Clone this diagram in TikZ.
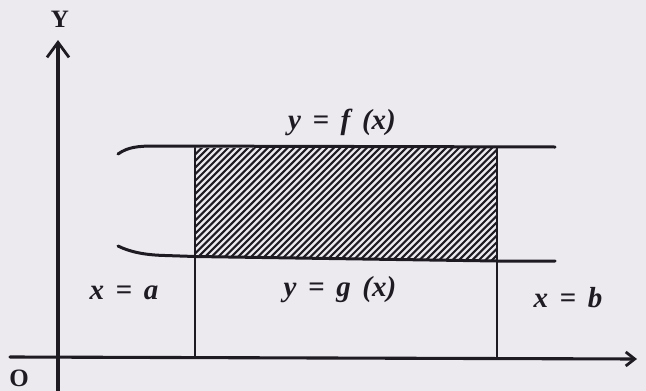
\documentclass[tikz,border=0pt]{standalone}
\usepackage{fontspec}
\setmainfont{Liberation Serif}
\usetikzlibrary{arrows.meta}
\definecolor{paper}{RGB}{236,233,239}
\definecolor{ink}{RGB}{30,27,35}
\newcommand{\gap}{\hspace{0.4em}}
\tikzset{
  axisline/.style={ink, line width=3.1pt},
  curveline/.style={ink, line width=3pt},
  bound/.style={ink, line width=2.6pt},
  hatchline/.style={ink, line width=2.1pt},
  lab/.style={font=\fontsize{29}{31}\selectfont\bfseries\itshape, text=ink, inner sep=0pt},
  axlab/.style={font=\fontsize{25}{27}\selectfont\bfseries, text=ink, inner sep=0pt}
}
\begin{document}
\begin{tikzpicture}[x=1pt,y=-1pt, line cap=round, line join=round]
\fill[paper] (0,0) rectangle (646,391);
\useasboundingbox (0,0) rectangle (646,391);
% key points
\coordinate (ybot) at (58,391);
\coordinate (ytop) at (58,40);
\coordinate (xleft) at (10,357);
\coordinate (xright) at (637,359);
\coordinate (aTop) at (195,148);
\coordinate (aBot) at (195,357.5);
\coordinate (bTop) at (497,148);
\coordinate (bBot) at (497,358.5);
% hatched region
\begin{scope}
  \clip (195,148) -- (497,148) -- (497,261) -- (195,256.5) -- cycle;
  \foreach \k in {0,...,70}{
    \draw[hatchline] (75+\k*6.6,268) -- ++(125,-125);
  }
\end{scope}
% curves
\draw[curveline] (118,154) .. controls (128,147) and (138,146) .. (155,146) -- (555,147);
\draw[curveline] (118,246) .. controls (130,252) and (145,255) .. (165,255.5) -- (195,256.5) -- (497,261) -- (555,261);
% vertical bounds
\draw[bound] (aTop) -- (aBot);
\draw[bound] (bTop) -- (bBot);
% axes
\draw[axisline, -{Straight Barb[length=15pt,width=22pt,line width=2.8pt]}] (ybot) -- (ytop);
\draw[axisline, -{Straight Barb[length=9pt,width=14pt,line width=2.8pt]}] (xleft) -- (xright);
% labels
\node[axlab] (Ylab) at (60,19) {Y};
\node[axlab] (Olab) at (19,378) {O};
\node[lab] (flab) at (342,122) {y\gap=\gap f\gap(x)};
\node[lab] (glab) at (340,290) {y\gap=\gap g\gap(x)};
\node[lab] (alab) at (124,293) {x\gap=\gap a};
\node[lab] (blab) at (568,298) {x\gap=\gap b};
\end{tikzpicture}
\end{document}
